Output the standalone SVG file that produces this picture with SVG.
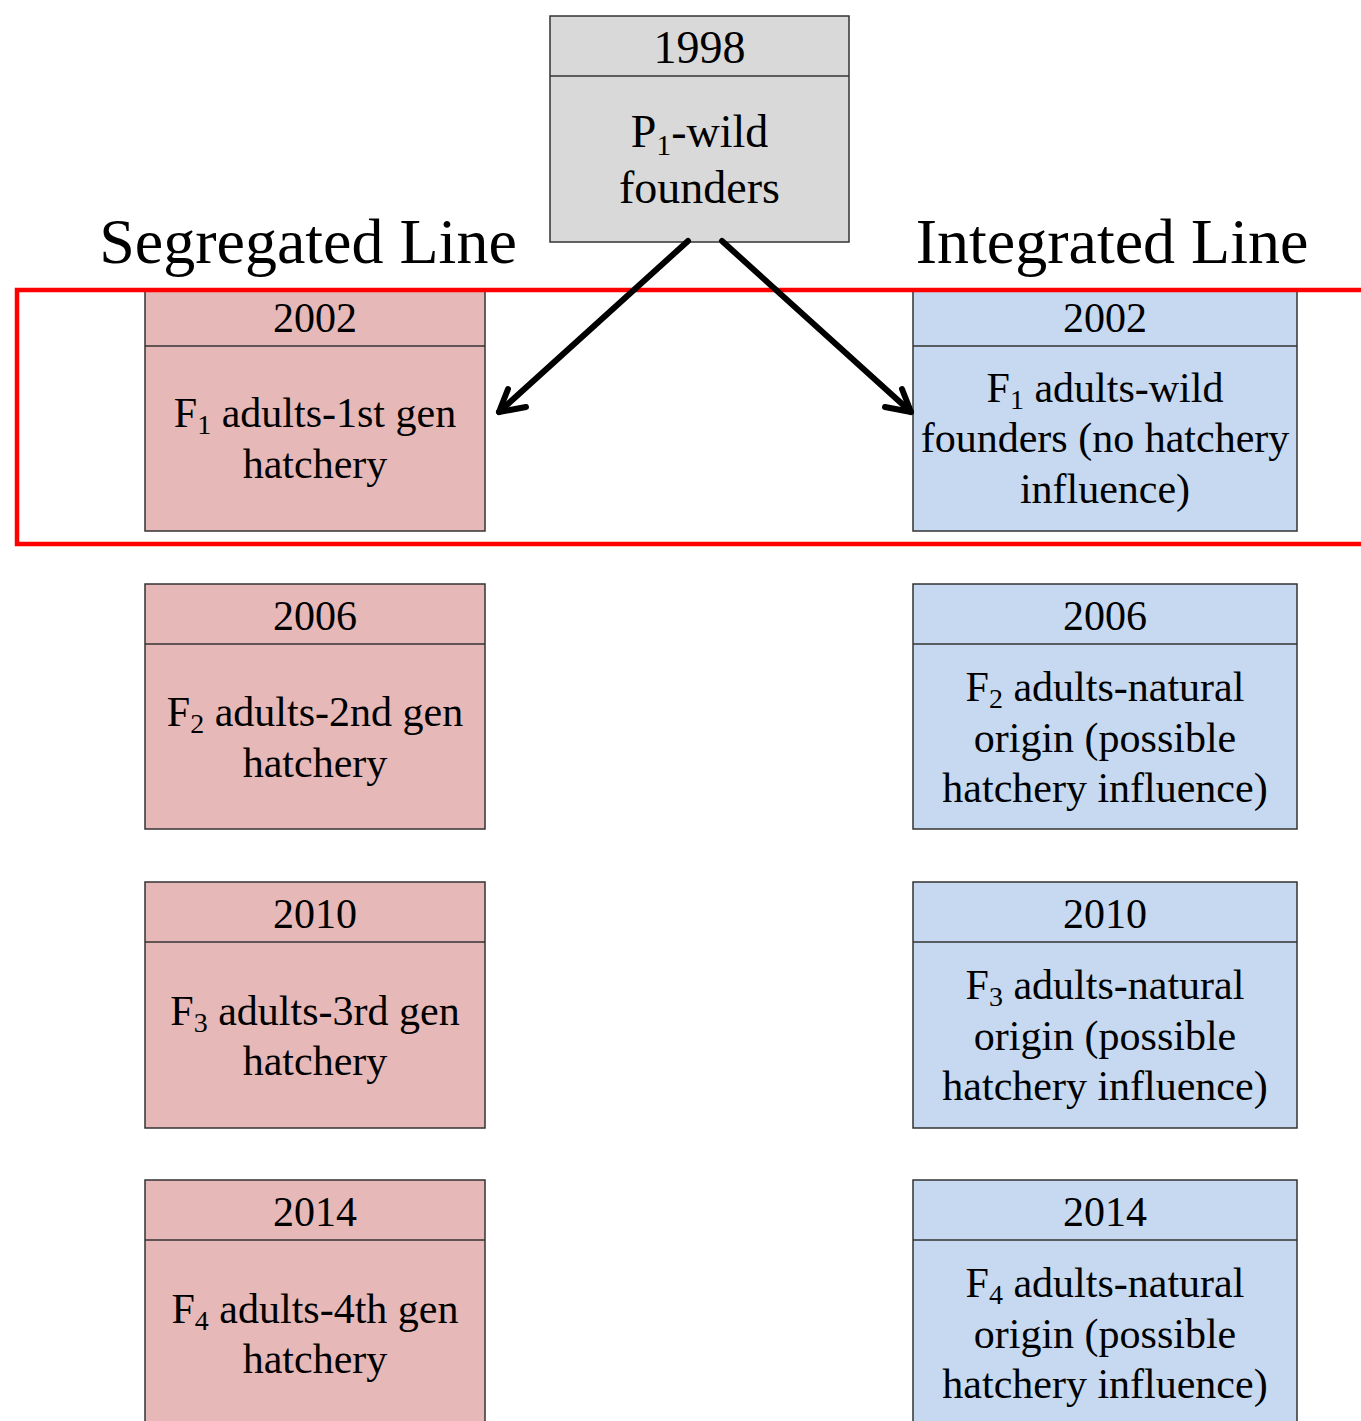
<svg xmlns="http://www.w3.org/2000/svg" width="1361" height="1421" viewBox="0 0 1361 1421">
<defs>
<style>
.t{font-family:"Liberation Serif","Times New Roman",serif;fill:#000;text-anchor:middle}
.yr{font-size:42px}
.bd{font-size:42px}
.ttl{font-size:64px}
.box{stroke:#333;stroke-width:1.5}
.seg{fill:#e6b8b7}
.int{fill:#c6d9f0}
.top{fill:#d9d9d9}
.sub{font-size:28px}
.arr{stroke:#000;stroke-width:6;fill:none;stroke-linecap:round;stroke-linejoin:round}
</style>
</defs>
<rect width="1361" height="1421" fill="#fff"/>

<g id="titles">
<text class="t ttl" x="308" y="263">Segregated Line</text>
<text class="t ttl" x="1112" y="263">Integrated Line</text>
</g>

<g id="node-1998">
<rect class="box top" x="550" y="16" width="299" height="226"/>
<line class="box" x1="550" y1="76" x2="849" y2="76"/>
<text class="t" style="font-size:46px" x="699.5" y="63">1998</text>
<text class="t" style="font-size:46px" x="699.5" y="147">P<tspan class="sub" style="font-size:30px" dy="8">1</tspan><tspan dy="-8">-wild</tspan></text>
<text class="t" style="font-size:46px" x="699.5" y="203">founders</text>
</g>

<g id="seg-2002">
<rect class="box seg" x="145" y="291" width="340" height="240"/>
<line class="box" x1="145" y1="346" x2="485" y2="346"/>
<text class="t yr" x="315" y="332">2002</text>
<text class="t bd" x="315" y="427">F<tspan class="sub" dy="7">1</tspan><tspan dy="-7"> adults-1st gen</tspan></text>
<text class="t bd" x="315" y="478">hatchery</text>
</g>

<g id="seg-2006">
<rect class="box seg" x="145" y="584" width="340" height="245"/>
<line class="box" x1="145" y1="644" x2="485" y2="644"/>
<text class="t yr" x="315" y="630">2006</text>
<text class="t bd" x="315" y="726">F<tspan class="sub" dy="7">2</tspan><tspan dy="-7"> adults-2nd gen</tspan></text>
<text class="t bd" x="315" y="777">hatchery</text>
</g>

<g id="seg-2010">
<rect class="box seg" x="145" y="882" width="340" height="246"/>
<line class="box" x1="145" y1="942" x2="485" y2="942"/>
<text class="t yr" x="315" y="928">2010</text>
<text class="t bd" x="315" y="1025">F<tspan class="sub" dy="7">3</tspan><tspan dy="-7"> adults-3rd gen</tspan></text>
<text class="t bd" x="315" y="1075">hatchery</text>
</g>

<g id="seg-2014">
<rect class="box seg" x="145" y="1180" width="340" height="270"/>
<line class="box" x1="145" y1="1240" x2="485" y2="1240"/>
<text class="t yr" x="315" y="1226">2014</text>
<text class="t bd" x="315" y="1323">F<tspan class="sub" dy="7">4</tspan><tspan dy="-7"> adults-4th gen</tspan></text>
<text class="t bd" x="315" y="1373">hatchery</text>
</g>

<g id="int-2002">
<rect class="box int" x="913" y="291" width="384" height="240"/>
<line class="box" x1="913" y1="346" x2="1297" y2="346"/>
<text class="t yr" x="1105" y="332">2002</text>
<text class="t bd" x="1105" y="402">F<tspan class="sub" dy="7">1</tspan><tspan dy="-7"> adults-wild</tspan></text>
<text class="t bd" x="1105" y="452">founders (no hatchery</text>
<text class="t bd" x="1105" y="503">influence)</text>
</g>

<g id="int-2006">
<rect class="box int" x="913" y="584" width="384" height="245"/>
<line class="box" x1="913" y1="644" x2="1297" y2="644"/>
<text class="t yr" x="1105" y="630">2006</text>
<text class="t bd" x="1105" y="701">F<tspan class="sub" dy="7">2</tspan><tspan dy="-7"> adults-natural</tspan></text>
<text class="t bd" x="1105" y="752">origin (possible</text>
<text class="t bd" x="1105" y="802">hatchery influence)</text>
</g>

<g id="int-2010">
<rect class="box int" x="913" y="882" width="384" height="246"/>
<line class="box" x1="913" y1="942" x2="1297" y2="942"/>
<text class="t yr" x="1105" y="928">2010</text>
<text class="t bd" x="1105" y="999">F<tspan class="sub" dy="7">3</tspan><tspan dy="-7"> adults-natural</tspan></text>
<text class="t bd" x="1105" y="1050">origin (possible</text>
<text class="t bd" x="1105" y="1100">hatchery influence)</text>
</g>

<g id="int-2014">
<rect class="box int" x="913" y="1180" width="384" height="270"/>
<line class="box" x1="913" y1="1240" x2="1297" y2="1240"/>
<text class="t yr" x="1105" y="1226">2014</text>
<text class="t bd" x="1105" y="1297">F<tspan class="sub" dy="7">4</tspan><tspan dy="-7"> adults-natural</tspan></text>
<text class="t bd" x="1105" y="1348">origin (possible</text>
<text class="t bd" x="1105" y="1398">hatchery influence)</text>
</g>

<g id="highlight">
<rect x="17" y="290" width="1400" height="254" fill="none" stroke="#ff0000" stroke-width="4.5"/>
</g>

<g id="connectors">
<line class="arr" x1="688" y1="241" x2="499" y2="412"/>
<polyline class="arr" points="508,389 499,412 526,407"/>
<line class="arr" x1="722" y1="241" x2="911" y2="412"/>
<polyline class="arr" points="902,389 911,412 885,407"/>
</g>
</svg>
